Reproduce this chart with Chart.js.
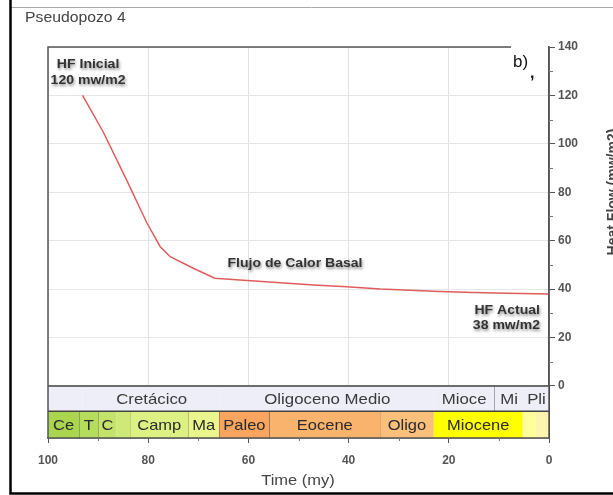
<!DOCTYPE html>
<html>
<head>
<meta charset="utf-8">
<script src="https://cdn.jsdelivr.net/npm/chart.js@4.4.1/dist/chart.umd.min.js"></script>
<style>
  html, body { margin: 0; padding: 0; background: #fff; overflow: hidden; }
  #wrap { position: relative; width: 613px; height: 495px; }
</style>
</head>
<body>
<div id="wrap"><canvas id="hf" width="613" height="495"></canvas></div>
<script>
// heat flow history (time in my, heat flow in mw/m2)
const timeMy = [93.1, 89.0, 84.3, 80.3, 77.6, 75.6, 71.0, 66.7, 61.7, 47.0, 40.4, 33.7, 21.8, 15.1, 8.4, 0];
const heatFlow = [120, 105, 85, 67.5, 57.5, 53.4, 48.6, 44.5, 43.8, 41.7, 41.0, 40.0, 39.0, 38.6, 38.3, 38];

const xTicks = [100, 80, 60, 40, 20, 0];
const yTicks = [0, 20, 40, 60, 80, 100, 120, 140];

// upper row of the time strip
const eraNames = ["", "Cretácico", "Oligoceno Medio", "Mioce", "Mi", "Pli"];
const eraBounds = [100, 93.1, 65.5, 23.0, 10.9, 5.0, 0];
const eraColors = ["#eeeef9", "#eeeef9", "#eeeef9", "#eeeef9", "#eeeef9", "#eeeef9"];

// lower row of the time strip
const stageNames = ["Ce", "T", "C", "", "Camp", "Ma", "Paleo", "Eocene", "Oligo", "Miocene", "", ""];
const stageBounds = [100, 93.75, 89.96, 86.3, 83.6, 72.0, 65.8, 55.8, 33.7, 23.0, 5.25, 2.6, 0];
const stageColors = ["#a9d54f", "#b5dc5c", "#c3e36a", "#cfe978", "#dcf083", "#eaf68d",
                     "#f9a560", "#f9b36d", "#fbbf7c", "#ffff00", "#ffff9c", "#fff3b0"];

const STRIP_MID = -10.5;   // y value splitting the two strip rows
const STRIP_BOT = -21.5;   // y value at the bottom of the strip
const FONT = "'Liberation Sans', Arial, sans-serif";

// text drawn a little wider than the font's natural width
function wideText(ctx, text, x, y, sx) {
  ctx.save();
  ctx.translate(x, y);
  ctx.scale(sx, 1);
  ctx.fillText(text, 0, 0);
  ctx.restore();
}

function shadowText(ctx, text, x, y) {
  ctx.save();
  ctx.shadowColor = "rgba(0,0,0,0.45)";
  ctx.shadowBlur = 3;
  ctx.shadowOffsetX = 1;
  ctx.shadowOffsetY = 2;
  wideText(ctx, text, x, y, 1.08);
  ctx.restore();
}

const decor = {
  id: "decor",
  beforeDraw(chart) {
    const ctx = chart.ctx;
    ctx.save();
    ctx.fillStyle = "#fff";
    ctx.fillRect(0, 0, chart.width, chart.height);
    ctx.restore();
  },
  afterDatasetsDraw(chart) {
    const ctx = chart.ctx;
    const xs = chart.scales.x, ys = chart.scales.y;
    const a = chart.chartArea;
    ctx.save();

    // time strip
    const y0 = ys.getPixelForValue(0), y1 = ys.getPixelForValue(STRIP_MID), y2 = ys.getPixelForValue(STRIP_BOT);
    ctx.textAlign = "center";
    ctx.textBaseline = "middle";
    ctx.font = "15px " + FONT;
    for (let i = 0; i < eraNames.length; i++) {
      const l = xs.getPixelForValue(eraBounds[i]), r = xs.getPixelForValue(eraBounds[i + 1]);
      ctx.fillStyle = eraColors[i];
      ctx.fillRect(l, y0, r - l, y1 - y0);
      ctx.fillStyle = "#3a3a3a";
      wideText(ctx, eraNames[i], (l + r) / 2, (y0 + y1) / 2 + 1, 1.12);
      ctx.strokeStyle = "#333";
      ctx.lineWidth = 1;
      ctx.beginPath();
      ctx.moveTo(Math.round(r) + 0.5, y0);
      ctx.lineTo(Math.round(r) + 0.5, y1);
      ctx.stroke();
    }
    for (let i = 0; i < stageNames.length; i++) {
      const l = xs.getPixelForValue(stageBounds[i]), r = xs.getPixelForValue(stageBounds[i + 1]);
      ctx.fillStyle = stageColors[i];
      ctx.fillRect(l, y1, r - l, y2 - y1);
      ctx.fillStyle = "#2a2a2a";
      wideText(ctx, stageNames[i], (l + r) / 2, (y1 + y2) / 2 + 1, 1.1);
      ctx.strokeStyle = "#333";
      ctx.beginPath();
      ctx.moveTo(Math.round(r) + 0.5, y1);
      ctx.lineTo(Math.round(r) + 0.5, y2);
      ctx.stroke();
    }
    ctx.strokeStyle = "#444";
    ctx.lineWidth = 1.5;
    ctx.beginPath();
    ctx.moveTo(a.left, y0); ctx.lineTo(a.right, y0);
    ctx.moveTo(a.left, y1); ctx.lineTo(a.right, y1);
    ctx.stroke();

    // plot frame
    ctx.strokeStyle = "#555";
    ctx.lineWidth = 1.5;
    ctx.strokeRect(a.left, a.top, a.right - a.left, a.bottom - a.top);

    // minor ticks
    ctx.lineWidth = 1;
    ctx.strokeStyle = "#777";
    ctx.beginPath();
    for (let v = 10; v < 140; v += 20) {
      const py = Math.round(ys.getPixelForValue(v)) + 0.5;
      ctx.moveTo(a.right, py); ctx.lineTo(a.right + 4, py);
    }
    for (let v = 10; v < 100; v += 20) {
      const px = Math.round(xs.getPixelForValue(v)) + 0.5;
      ctx.moveTo(px, a.bottom); ctx.lineTo(px, a.bottom + 3);
    }
    ctx.stroke();

    // curve notes
    ctx.fillStyle = "#333";
    ctx.font = "bold 13px " + FONT;
    ctx.textAlign = "center";
    shadowText(ctx, "HF Inicial", xs.getPixelForValue(92), ys.getPixelForValue(132.6));
    shadowText(ctx, "120 mw/m2", xs.getPixelForValue(92), ys.getPixelForValue(126));
    shadowText(ctx, "Flujo de Calor Basal", xs.getPixelForValue(50.7), ys.getPixelForValue(50.8));
    ctx.textAlign = "right";
    shadowText(ctx, "HF Actual", xs.getPixelForValue(1.8), ys.getPixelForValue(31.4));
    shadowText(ctx, "38 mw/m2", xs.getPixelForValue(1.8), ys.getPixelForValue(24.8));

    // panel tag
    ctx.fillStyle = "#fff";
    ctx.fillRect(a.right - 38, a.top - 2, 37, 40);
    ctx.fillStyle = "#111";
    ctx.textAlign = "left";
    ctx.font = "17px " + FONT;
    ctx.fillText("b)", 513, 62);
    ctx.font = "bold 16px " + FONT;
    ctx.fillText(",", 530, 74);

    // titles
    ctx.fillStyle = "#444";
    ctx.font = "15px " + FONT;
    wideText(ctx, "Pseudopozo 4", 25, 18, 1.05);
    ctx.textAlign = "center";
    wideText(ctx, "Time (my)", 298, 481, 1.1);
    ctx.save();
    ctx.translate(617, 192);
    ctx.rotate(-Math.PI / 2);
    ctx.font = "bold 14px " + FONT;
    ctx.textBaseline = "alphabetic";
    ctx.fillText("Heat Flow (mw/m2)", 0, 0);
    ctx.restore();

    // outer frame
    ctx.strokeStyle = "#aaa";
    ctx.lineWidth = 1;
    ctx.beginPath();
    ctx.moveTo(10, 7.5); ctx.lineTo(chart.width, 7.5);
    ctx.stroke();
    ctx.strokeStyle = "#000";
    ctx.lineWidth = 2.5;
    ctx.beginPath();
    ctx.moveTo(10.5, 0); ctx.lineTo(10.5, 493.5); ctx.lineTo(chart.width, 493.5);
    ctx.stroke();
    ctx.restore();
  }
};

new Chart(document.getElementById("hf"), {
  type: "line",
  data: {
    datasets: [{
      data: timeMy.map((t, i) => ({ x: t, y: heatFlow[i] })),
      borderColor: "#e05c5c",
      borderWidth: 1.5,
      pointRadius: 0,
      tension: 0,
      fill: false
    }]
  },
  options: {
    responsive: false,
    devicePixelRatio: 1,
    animation: false,
    layout: { padding: { left: 48, top: 47, right: 0, bottom: 0 } },
    plugins: { legend: { display: false }, tooltip: { enabled: false } },
    scales: {
      x: {
        type: "linear",
        reverse: true,
        min: 0,
        max: 100,
        afterBuildTicks: (s) => { s.ticks = xTicks.map((v) => ({ value: v })); },
        afterFit: (s) => { s.height = 57; },
        grid: { color: "#e2e2e2", tickColor: "#555", tickLength: 5 },
        border: { color: "#555", width: 1.5 },
        ticks: {
          color: "#555",
          padding: 10,
          maxRotation: 0,
          font: { family: FONT, size: 12, weight: "bold" }
        }
      },
      y: {
        position: "right",
        min: STRIP_BOT,
        max: 140,
        afterBuildTicks: (s) => { s.ticks = yTicks.map((v) => ({ value: v })); },
        afterFit: (s) => { s.width = 64; },
        grid: { color: "#e6e6e6", tickColor: "#555", tickLength: 6 },
        border: { color: "#555", width: 1.5 },
        ticks: {
          color: "#555",
          padding: 3,
          font: { family: FONT, size: 12, weight: "bold" }
        }
      }
    }
  },
  plugins: [decor]
});
</script>
</body>
</html>
